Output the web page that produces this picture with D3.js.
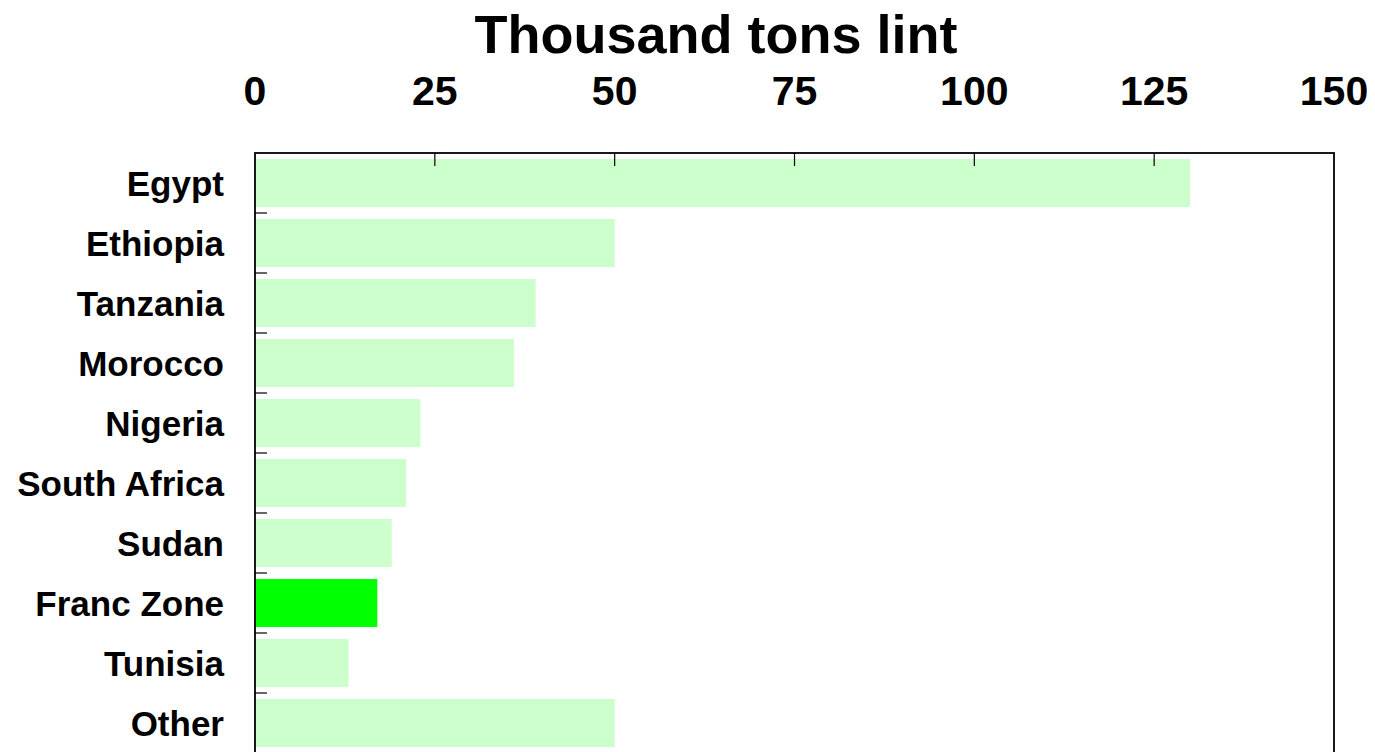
<!DOCTYPE html>
<meta charset="utf-8">
<style>
body { margin: 0; background: #fff; }
svg text { font-family: "Liberation Sans", Arial, Helvetica, sans-serif; font-weight: bold; fill: #000; }
</style>
<body>
<svg width="1375" height="752"></svg>
<script src="https://d3js.org/d3.v7.min.js"></script>
<script>
// thousand tons lint
var countries = ["Egypt", "Ethiopia", "Tanzania", "Morocco", "Nigeria",
                 "South Africa", "Sudan", "Franc Zone", "Tunisia", "Other"];
var lint = [130, 50, 39, 36, 23, 21, 19, 17, 13, 50];
var xTicks = [0, 25, 50, 75, 100, 125, 150];
var highlight = "Franc Zone";

var svg = d3.select("svg"),
    plotL = 255, plotR = 1334, plotT = 153, plotB = 753;

var x = d3.scaleLinear()
    .domain([0, 150])
    .range([plotL, plotR]);

var y = d3.scaleBand()
    .domain(countries)
    .range([plotT, plotB])
    .paddingInner(0.2)
    .paddingOuter(0.1);

// title
svg.append("text")
    .attr("x", 716)
    .attr("y", 53)
    .attr("text-anchor", "middle")
    .style("font-size", "54px")
    .text("Thousand tons lint");

// bars
svg.selectAll("rect.bar")
  .data(countries)
  .enter().append("rect")
    .attr("class", "bar")
    .attr("x", x(0) + 1)
    .attr("y", function(d) { return y(d); })
    .attr("width", function(d, i) { return x(lint[i]) - x(0) - 1; })
    .attr("height", y.bandwidth())
    .attr("fill", function(d) { return d === highlight ? "#00ff00" : "#ccffcc"; });

// top axis labels
svg.append("g")
  .selectAll("text")
  .data(xTicks)
  .enter().append("text")
    .attr("x", function(d) { return x(d); })
    .attr("y", 105)
    .attr("text-anchor", "middle")
    .style("font-size", "41px")
    .text(function(d) { return d; });

// top ticks pointing inward
svg.append("g")
  .selectAll("line")
  .data(xTicks.slice(1, -1))
  .enter().append("line")
    .attr("x1", function(d) { return x(d); })
    .attr("x2", function(d) { return x(d); })
    .attr("y1", plotT)
    .attr("y2", plotT + 13)
    .attr("stroke", "#000")
    .attr("stroke-width", 1.2);

// left ticks at the band boundaries
var gap = (y.step() - y.bandwidth()) / 2;
svg.append("g")
  .selectAll("line")
  .data(countries.slice(1))
  .enter().append("line")
    .attr("x1", plotL)
    .attr("x2", plotL + 12)
    .attr("y1", function(d) { return y(d) - gap; })
    .attr("y2", function(d) { return y(d) - gap; })
    .attr("stroke", "#000")
    .attr("stroke-width", 1.2);

// category labels
svg.append("g")
  .selectAll("text")
  .data(countries)
  .enter().append("text")
    .attr("x", 224)
    .attr("y", function(d) { return y(d) + y.bandwidth() / 2; })
    .attr("dy", "0.36em")
    .attr("text-anchor", "end")
    .style("font-size", "35px")
    .text(function(d) { return d; });

// frame
svg.append("rect")
    .attr("x", plotL)
    .attr("y", plotT)
    .attr("width", plotR - plotL)
    .attr("height", plotB - plotT)
    .attr("fill", "none")
    .attr("stroke", "#000")
    .attr("stroke-width", 1.8);
</script>
</body>
